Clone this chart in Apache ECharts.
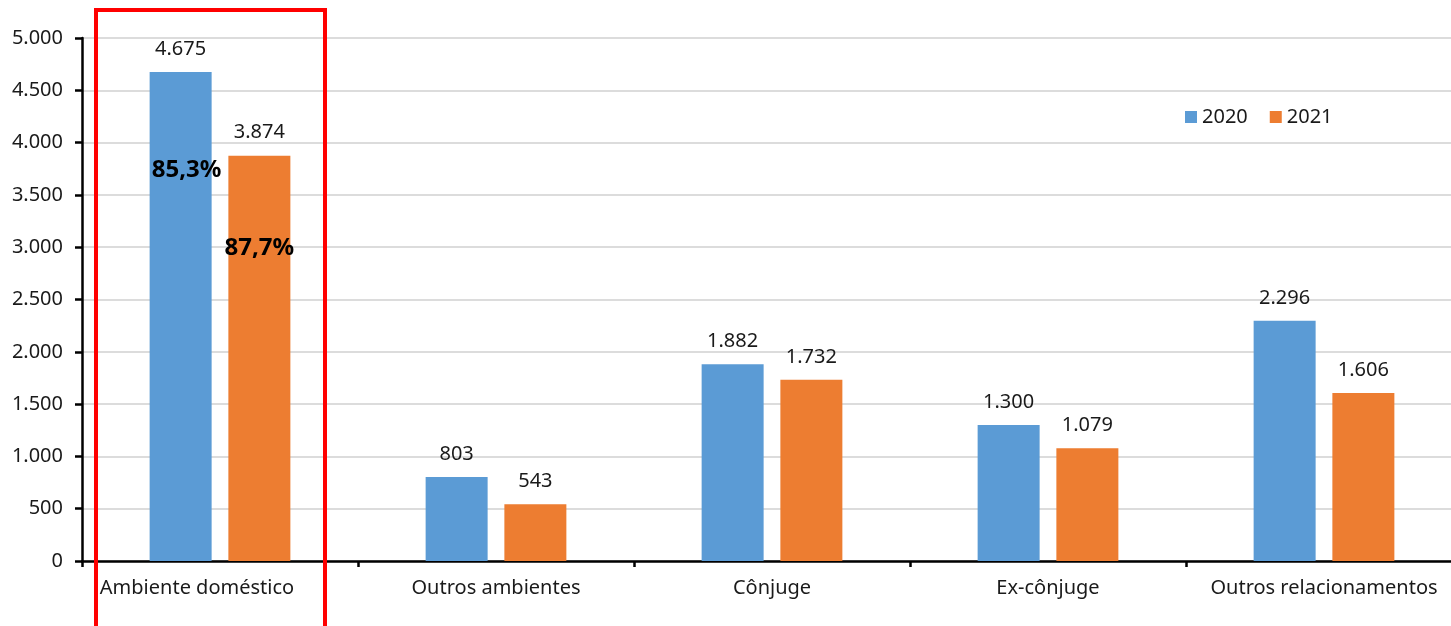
<!DOCTYPE html>
<html>
<head>
<meta charset="utf-8">
<style>
  html, body { margin: 0; padding: 0; background: #fff; overflow: hidden; width: 1451px; height: 626px; }
  /* the plot runs slightly past the right edge of the page */
  #chart { width: 1463px; height: 626px; }
</style>
<script src="https://cdn.jsdelivr.net/npm/echarts@6/dist/echarts.min.js"></script>
</head>
<body>
<div id="chart"></div>
<script>
// Vínculo com o agressor, 2020 x 2021
const categories = ['Ambiente doméstico', 'Outros ambientes', 'Cônjuge', 'Ex-cônjuge', 'Outros relacionamentos'];
const values2020 = [4675, 803, 1882, 1300, 2296];
const values2021 = [3874, 543, 1732, 1079, 1606];
const shareLabels = ['85,3%', '87,7%'];
const yTicks = { min: 0, max: 5000, interval: 500 };

const FONT = 'Noto Sans';
const fmt = v => String(v).replace(/\B(?=(\d{3})+(?!\d))/g, '.');

const chart = echarts.init(document.getElementById('chart'), null, { renderer: 'canvas' });

const valueLabel = {
  show: true,
  position: 'top',
  distance: 13,
  color: '#1a1a1a',
  fontFamily: FONT,
  fontSize: 20,
  formatter: p => fmt(p.value)
};

function shareMark(text, yValue, dx) {
  return {
    symbol: 'rect',
    symbolSize: 1,
    itemStyle: { color: 'rgba(0,0,0,0)' },
    label: {
      show: true,
      position: 'inside',
      offset: [dx, 0],
      color: '#000',
      fontFamily: FONT,
      fontWeight: 'bold',
      fontSize: 24,
      formatter: text
    },
    data: [{ coord: [categories[0], yValue] }]
  };
}

chart.setOption({
  animation: false,
  backgroundColor: '#fff',
  textStyle: { fontFamily: FONT },
  grid: { left: 82, right: 1, top: 38, bottom: 65, containLabel: false },
  legend: {
    data: ['2020', '2021'],
    left: 1180,
    top: 102,
    icon: 'rect',
    itemWidth: 12,
    itemHeight: 12,
    itemGap: 22,
    textStyle: { fontFamily: FONT, fontSize: 20, color: '#1a1a1a', padding: [0, 0, 0, 0] }
  },
  xAxis: {
    type: 'category',
    data: categories,
    boundaryGap: true,
    axisLine: { lineStyle: { color: '#000', width: 2.5 } },
    axisTick: { show: true, length: 6, lineStyle: { color: '#000', width: 2.5 }, alignWithLabel: false, interval: 0 },
    axisLabel: {
      color: '#1a1a1a',
      fontFamily: FONT,
      fontSize: 20,
      margin: 17,
      interval: 0,
      // the first category name sits a little left of its slot
      formatter: (v, i) => (i === 0 ? '{first|' + v + '}' : v),
      rich: { first: { fontFamily: FONT, fontSize: 20, color: '#1a1a1a', padding: [0, 46, 0, 0] } }
    },
    splitLine: { show: false }
  },
  yAxis: {
    type: 'value',
    min: yTicks.min,
    max: yTicks.max,
    interval: yTicks.interval,
    axisLine: { show: true, lineStyle: { color: '#000', width: 2.5 } },
    axisTick: { show: true, length: 7, lineStyle: { color: '#000', width: 2.5 } },
    axisLabel: { color: '#1a1a1a', fontFamily: FONT, fontSize: 20, margin: 19, formatter: v => fmt(v) },
    splitLine: { lineStyle: { color: '#d0d0d0', width: 1.5 } }
  },
  series: [
    {
      name: '2020',
      type: 'bar',
      data: values2020,
      barWidth: 62,
      barGap: '27%',
      itemStyle: { color: '#5B9BD5' },
      label: valueLabel,
      markPoint: shareMark(shareLabels[0], 3740, 6)
    },
    {
      name: '2021',
      type: 'bar',
      data: values2021,
      barWidth: 62,
      itemStyle: { color: '#ED7D31' },
      label: valueLabel,
      markPoint: shareMark(shareLabels[1], 2990, 0)
    }
  ],
  graphic: [
    {
      type: 'rect',
      z: 100,
      shape: { x: 96, y: 10, width: 229, height: 640 },
      style: { fill: 'none', stroke: '#ff0000', lineWidth: 4 }
    }
  ]
});
</script>
</body>
</html>
